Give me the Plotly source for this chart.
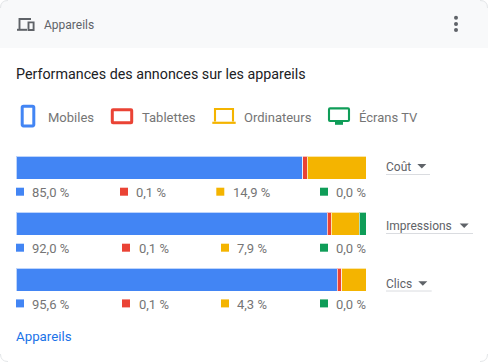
import plotly.graph_objects as go

# --- data ---
metrics = ["Coût", "Impressions", "Clics"]
devices = ["Mobiles", "Tablettes", "Ordinateurs", "Écrans TV"]
device_colors = ["#4285f4", "#ea4335", "#f4b400", "#0f9d58"]
bar_mobiles = [81.9, 88.9, 91.8]
bar_tablettes = [1.3, 1.2, 1.3]
bar_ordinateurs = [16.8, 7.9, 6.9]
bar_ecrans = [0.0, 2.0, 0.0]
share_mobiles = ["85,0 %", "92,0 %", "95,6 %"]
share_tablettes = ["0,1 %", "0,1 %", "0,1 %"]
share_ordinateurs = ["14,9 %", "7,9 %", "4,3 %"]
share_ecrans = ["0,0 %", "0,0 %", "0,0 %"]

W, H = 488, 362
FONT = "Roboto"
GREY = "#757575"
fig = go.Figure()

row_pos = [0, 1, 2]
for name, vals, col in zip(devices, [bar_mobiles, bar_tablettes, bar_ordinateurs, bar_ecrans], device_colors):
    fig.add_trace(go.Bar(y=row_pos, x=vals, name=name, orientation="h", width=23 / 56,
                         marker=dict(color=col, line=dict(color="rgba(255,255,255,0.65)", width=1)),
                         hoverinfo="skip", showlegend=False))

shapes, ann = [], []


def S(**k):
    k.setdefault("xref", "x2")
    k.setdefault("yref", "y2")
    shapes.append(k)


def T(x, y, text, size=12, color=GREY, xanchor="left"):
    ann.append(dict(x=x - 1, y=y, text=text, xref="x2", yref="y2", showarrow=False, xanchor=xanchor,
                    yanchor="middle", font=dict(family=FONT, size=size, color=color),
                    align="left", borderpad=0))


# card & header
S(type="path", layer="below", path="M8 0H480Q488 0 488 8V48H0V8Q0 0 8 0Z",
  fillcolor="#f8f9fa", line=dict(width=0))
corner = dict(color="#e4e6e8", width=1)
S(type="path", path="M0.5 8Q0.5 0.5 8 0.5", line=corner)
S(type="path", path="M480 0.5Q487.5 0.5 487.5 8", line=corner)
S(type="path", path="M0.5 354Q0.5 361.5 8 361.5", line=corner)
S(type="path", path="M480 361.5Q487.5 361.5 487.5 354", line=corner)

# header device icon
ICON = "#5f6368"
S(type="path", path="M19.5 29.5V19H31", line=dict(color=ICON, width=1.9))
S(type="path", path="M17 29.8H27", line=dict(color=ICON, width=2))
S(type="rect", x0=28.5, x1=33.6, y0=22.4, y1=30, line=dict(color=ICON, width=1.9), fillcolor="rgba(0,0,0,0)")
for cy in (17.7, 24, 30):
    S(type="circle", x0=454, x1=458, y0=cy - 2, y1=cy + 2, fillcolor="#5f6368", line=dict(width=0))

T(44, 25, "Appareils", 12, "#5f6368")
T(16, 74, "Performances des annonces sur les appareils", 14.3, "#202124")

# device legend icons
S(type="path", path="M23.5 106.3H32.5Q33.8 106.3 33.8 107.6V124.6Q33.8 125.9 32.5 125.9H23.5Q22.2 125.9 22.2 124.6V107.6Q22.2 106.3 23.5 106.3Z",
  line=dict(color=device_colors[0], width=3), fillcolor="rgba(0,0,0,0)")
S(type="path", path="M113 109.8H131Q131.7 109.8 131.7 110.5V122Q131.7 122.7 131 122.7H113Q112.3 122.7 112.3 122V110.5Q112.3 109.8 113 109.8Z",
  line=dict(color=device_colors[1], width=3), fillcolor="rgba(0,0,0,0)")
S(type="path", path="M215 121.5V109H233V121.5", line=dict(color=device_colors[2], width=2.1), fillcolor="rgba(0,0,0,0)")
S(type="path", path="M212.3 122.8H235.7", line=dict(color=device_colors[2], width=2.2))
S(type="path", path="M330 108.4H348Q349 108.4 349 109.4V120Q349 121 348 121H330Q329 121 329 120V109.4Q329 108.4 330 108.4Z",
  line=dict(color=device_colors[3], width=2.1), fillcolor="rgba(0,0,0,0)")
S(type="rect", x0=335, x1=343, y0=121, y1=124.8, fillcolor=device_colors[3], line=dict(width=0))
for x, name in zip([48, 142, 244, 359], devices):
    T(x, 117.3, name, 13)

# per-row value legend
swatch_x = [[16, 120, 216.3, 320], [16, 122, 221, 320], [16, 122, 221, 320]]
text_x = [[32.3, 136, 232.5, 336.3], [32.3, 138.7, 237.3, 336.3], [32.3, 138.7, 237.3, 336.3]]
swatch_y = [187.7, 243.7, 299.4]
for r in range(3):
    labels = [share_mobiles[r], share_tablettes[r], share_ordinateurs[r], share_ecrans[r]]
    for c in range(4):
        S(type="rect", x0=swatch_x[r][c], x1=swatch_x[r][c] + 8, y0=swatch_y[r], y1=swatch_y[r] + 8,
          fillcolor=device_colors[c], line=dict(width=0))
        T(text_x[r][c], swatch_y[r] + 5, labels[c], 13)

# metric selectors
sel_y = [167, 225.7, 283.5]
line_y = [174.5, 233.5, 291]
line_x1 = [430, 473, 431.7]
caret_x = [417.3, 459.7, 418.3]
caret_y = [164, 223.5, 281.3]
for i, m in enumerate(metrics):
    T(386, sel_y[i], m, 12, "#5f6368")
    S(type="line", x0=386, x1=line_x1[i], y0=line_y[i], y1=line_y[i], line=dict(color="#dadce0", width=1))
    cx, cy = caret_x[i], caret_y[i]
    S(type="path", path=f"M{cx} {cy}H{cx + 9}L{cx + 4.5} {cy + 4.5}Z", fillcolor="#5f6368", line=dict(width=0))

T(16, 336.7, "Appareils", 13.3, "#1a73e8")

# hidden pixel-space overlay trace so x2/y2 exist
fig.add_trace(go.Scatter(x=[0], y=[0], xaxis="x2", yaxis="y2", mode="markers",
                         marker=dict(opacity=0, size=1), hoverinfo="skip", showlegend=False))

row_top = 167.8 - 28
row_bottom = 279.8 + 28
fig.update_layout(
    width=W, height=H, autosize=False, margin=dict(l=0, r=0, t=0, b=0),
    paper_bgcolor="white", plot_bgcolor="rgba(0,0,0,0)", barmode="stack",
    xaxis=dict(domain=[16 / W, 366 / W], range=[0, 100], visible=False, fixedrange=True),
    yaxis=dict(domain=[1 - row_bottom / H, 1 - row_top / H], range=[2.5, -0.5], visible=False, fixedrange=True),
    xaxis2=dict(domain=[0, 1], range=[0, W], visible=False, fixedrange=True, anchor="y2"),
    yaxis2=dict(domain=[0, 1], range=[H, 0], visible=False, fixedrange=True, anchor="x2"),
    shapes=shapes, annotations=ann, hovermode=False,
)
fig.write_html("out.html", config={"displayModeBar": False, "responsive": False},
               post_script="document.body.style.margin='0';document.body.style.overflow='hidden';")
